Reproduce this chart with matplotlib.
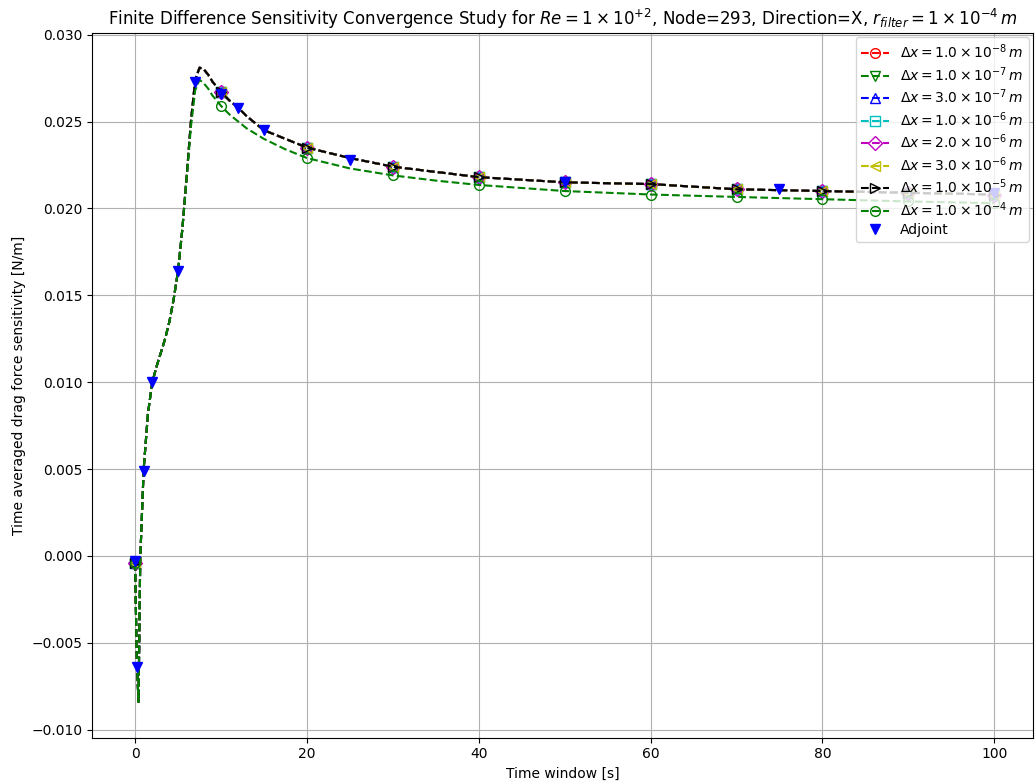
import numpy as np
import matplotlib
matplotlib.use("Agg")
import matplotlib.pyplot as plt

# time window [s]
timeWindow = [0, 0.2, 0.4, 0.6, 1, 1.5, 2, 2.5, 3, 3.5, 4, 4.5, 5, 5.5, 6, 6.5,
              7, 7.5, 8, 8.5, 9, 10, 11, 12, 13, 15, 17.5, 20, 25, 30, 35, 40,
              50, 60, 70, 80, 90, 100]

# converged finite difference sensitivity (dx = 1e-8 ... 1e-5 overlap)
sensFine = [-0.0004, -0.0060, -0.0084, -0.0002, 0.0050, 0.0082, 0.0100, 0.0109,
            0.0117, 0.0125, 0.0135, 0.0148, 0.0164, 0.0188, 0.0218, 0.0250,
            0.0274, 0.0281, 0.0280, 0.0277, 0.0273, 0.0267, 0.0262, 0.0258,
            0.0253, 0.0245, 0.0240, 0.0235, 0.0229, 0.0224, 0.0221, 0.0218,
            0.0215, 0.0214, 0.0211, 0.0210, 0.0209, 0.0208]

# coarsest step dx = 1e-4
sensCoarse = [-0.0004, -0.0060, -0.0084, -0.0002, 0.0050, 0.0082, 0.0100, 0.0109,
              0.0117, 0.0125, 0.0135, 0.0148, 0.0164, 0.0188, 0.0217, 0.0247,
              0.0268, 0.0274, 0.0272, 0.0269, 0.0265, 0.0259, 0.0254, 0.0250,
              0.0246, 0.0240, 0.0234, 0.0229, 0.0223, 0.0219, 0.0216, 0.02135,
              0.0210, 0.0208, 0.02066, 0.02053, 0.0204, 0.0203]

stepLabels = ["1.0", "1.0", "3.0", "1.0", "2.0", "3.0", "1.0", "1.0"]
stepExponents = [-8, -7, -7, -6, -6, -6, -5, -4]

adjointTime = [0, 0.2, 1, 2, 5, 7, 10, 12, 15, 25, 50, 75, 100]
adjointSens = [-0.0003, -0.0064, 0.0049, 0.0100, 0.0164, 0.0273, 0.0266,
               0.0258, 0.0245, 0.0228, 0.0215, 0.0211, 0.0209]


def plotFigure():
    fig, ax = plt.subplots(figsize=(10.35, 7.83), dpi=100)
    colors = ['r', 'g', 'b', 'c', 'm', 'y', 'k', 'g']
    markers = ['o', 'v', '^', 's', 'D', '<', '>', 'o']
    markIdx = [i for i, t in enumerate(timeWindow) if t % 10 == 0]

    for i in range(len(stepLabels)):
        values = sensCoarse if i == len(stepLabels) - 1 else sensFine
        label = r"$\Delta x = %s \times 10^{%d}\,m$" % (stepLabels[i], stepExponents[i])
        ax.plot(timeWindow, values, linestyle='--', color=colors[i], marker=markers[i],
                fillstyle='none', markersize=7, markevery=markIdx, linewidth=1.5,
                label=label)

    ax.plot(adjointTime, adjointSens, linestyle='none', marker='v', color='b',
            markersize=7, label="Adjoint")

    ax.set_xlabel("Time window [s]")
    ax.set_ylabel("Time averaged drag force sensitivity [N/m]")
    ax.set_title(r"Finite Difference Sensitivity Convergence Study for $Re = 1 \times 10^{+2}$, "
                 r"Node=293, Direction=X, $r_{filter} = 1 \times 10^{-4}\,m$")
    ax.set_xlim(-5, 104.5)
    ax.set_ylim(-0.01045, 0.0301)
    ax.grid(True, color='#b0b0b0', linewidth=0.8)
    ax.legend(loc='upper right', labelspacing=0.28, handlelength=2.0,
              borderaxespad=0.3)

    fig.subplots_adjust(left=0.089, right=0.998, top=0.958, bottom=0.058)
    plt.savefig("out.png")


def main():
    plotFigure()


if __name__ == "__main__":
    main()
